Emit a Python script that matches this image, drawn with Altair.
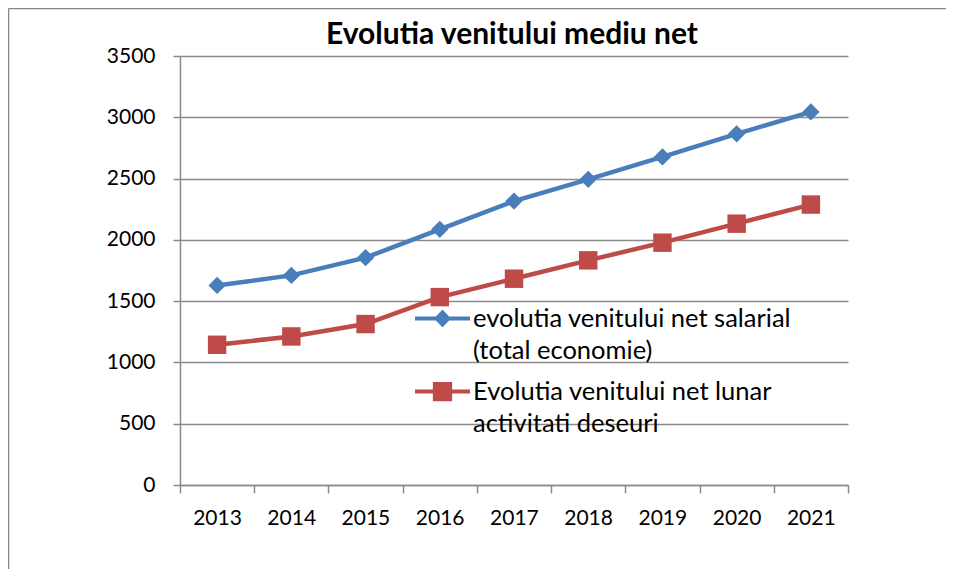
import altair as alt
import pandas as pd

# ---- data ----
years = [2013, 2014, 2015, 2016, 2017, 2018, 2019, 2020, 2021]
salarial = [1628, 1710, 1855, 2086, 2316, 2494, 2677, 2865, 3044]
deseuri = [1144, 1212, 1313, 1533, 1683, 1833, 1977, 2132, 2288]
series_names = [
    "evolutia venitului net salarial|(total economie)",
    "Evolutia venitului net lunar|activitati deseuri",
]
series_colors = ["#4A7EBB", "#BE4B48"]
y_ticks = [0, 500, 1000, 1500, 2000, 2500, 3000, 3500]
x_edges = [2012.5, 2013.5, 2014.5, 2015.5, 2016.5, 2017.5, 2018.5, 2019.5, 2020.5, 2021.5]
title_text = "Evolutia venitului mediu net"

df = pd.DataFrame({
    "year": years * 2,
    "value": salarial + deseuri,
    "series": [series_names[0]] * len(years) + [series_names[1]] * len(years),
})

W, H = 668, 429
FONT = "Lato"
GRAY = "#8a8a8a"

# legend symbols: line + marker (diamond / square), in unit box coords
sym_paths = [
    "M-1,-0.075L1,-0.075L1,0.075L-1,0.075Z M0,-0.33L0.31,0L0,0.33L-0.31,0Z",
    "M-1,-0.075L1,-0.075L1,0.075L-1,0.075Z M-0.35,-0.35L0.35,-0.35L0.35,0.35L-0.35,0.35Z",
]

x_enc = alt.X(
    "year:Q",
    scale=alt.Scale(domain=[2012.5, 2021.5], nice=False, zero=False),
    axis=alt.Axis(
        values=x_edges,
        labelExpr="datum.value < 2021 ? format(datum.value + 0.5, 'd') : ''",
        labelOffset=37,
        labelFlush=False,
        labelOverlap=False,
        grid=False,
        title=None,
        tickSize=8,
        labelPadding=14,
    ),
)
y_enc = alt.Y(
    "value:Q",
    scale=alt.Scale(domain=[0, 3500], nice=False),
    axis=alt.Axis(
        values=y_ticks,
        format="d",
        grid=True,
        title=None,
        tickSize=7,
        labelPadding=18,
    ),
)

cond = f"datum.series == '{series_names[0]}'"

lines = alt.Chart(df).mark_line(strokeWidth=4.5).encode(
    x=x_enc,
    y=y_enc,
    detail="series:N",
    color=alt.condition(cond, alt.value(series_colors[0]), alt.value(series_colors[1])),
)

points = alt.Chart(df).mark_point(filled=True, opacity=1, strokeWidth=0).encode(
    x=x_enc,
    y=y_enc,
    color=alt.condition(cond, alt.value(series_colors[0]), alt.value(series_colors[1])),
    shape=alt.condition(cond, alt.value("diamond"), alt.value("square")),
    size=alt.condition(cond, alt.value(300), alt.value(340)),
)

legend_def = dict(
    orient="none",
    legendX=235,
    legendY=235,
    title=None,
    labelExpr="split(datum.label, '|')",
    labelFont=FONT,
    labelFontSize=25.5,
    labelColor="black",
    labelLimit=600,
    labelOffset=3,
    symbolSize=3025,
    symbolStrokeWidth=0,
    symbolOpacity=1,
    rowPadding=-26,
)

legend_layer = alt.Chart(df).mark_point(filled=True, opacity=0).encode(
    x=x_enc,
    y=y_enc,
    fill=alt.Fill("series:N", scale=alt.Scale(domain=series_names, range=series_colors),
                  legend=alt.Legend(**legend_def)),
    shape=alt.Shape("series:N", scale=alt.Scale(domain=series_names, range=sym_paths),
                    legend=alt.Legend(**legend_def)),
)

frame_data = alt.Data(values=[{"k": 1}])
frame_top = alt.Chart(frame_data).mark_rule(color="#868686", strokeWidth=1.5).encode(
    x=alt.value(-171.5), x2=alt.value(938 - 172), y=alt.value(-47.5)
)
frame_left = alt.Chart(frame_data).mark_rule(color="#868686", strokeWidth=1.5).encode(
    x=alt.value(-171.5), y=alt.value(-47.5), y2=alt.value(561 - 48)
)

chart = alt.layer(frame_top, frame_left, lines, points, legend_layer).properties(
    width=W,
    height=H,
    padding={"left": 172, "top": 48, "right": 98, "bottom": 84},
    autosize=alt.AutoSizeParams(type="none"),
    title=alt.TitleParams(
        title_text, font=FONT, fontSize=30, fontWeight="bold", color="black",
        anchor="middle", frame="group", baseline="alphabetic", offset=-66, dx=-2,
    ),
).configure(
    style={"guide-label": {"lineHeight": 32}}
).configure_view(stroke=None).configure_axis(
    gridColor=GRAY, domainColor=GRAY, tickColor=GRAY,
    gridWidth=1.5, domainWidth=1.5, tickWidth=1.5,
    labelFont=FONT, labelFontSize=21, labelColor="black",
)

chart.save("out.html", embed_options={"renderer": "svg", "actions": False})
